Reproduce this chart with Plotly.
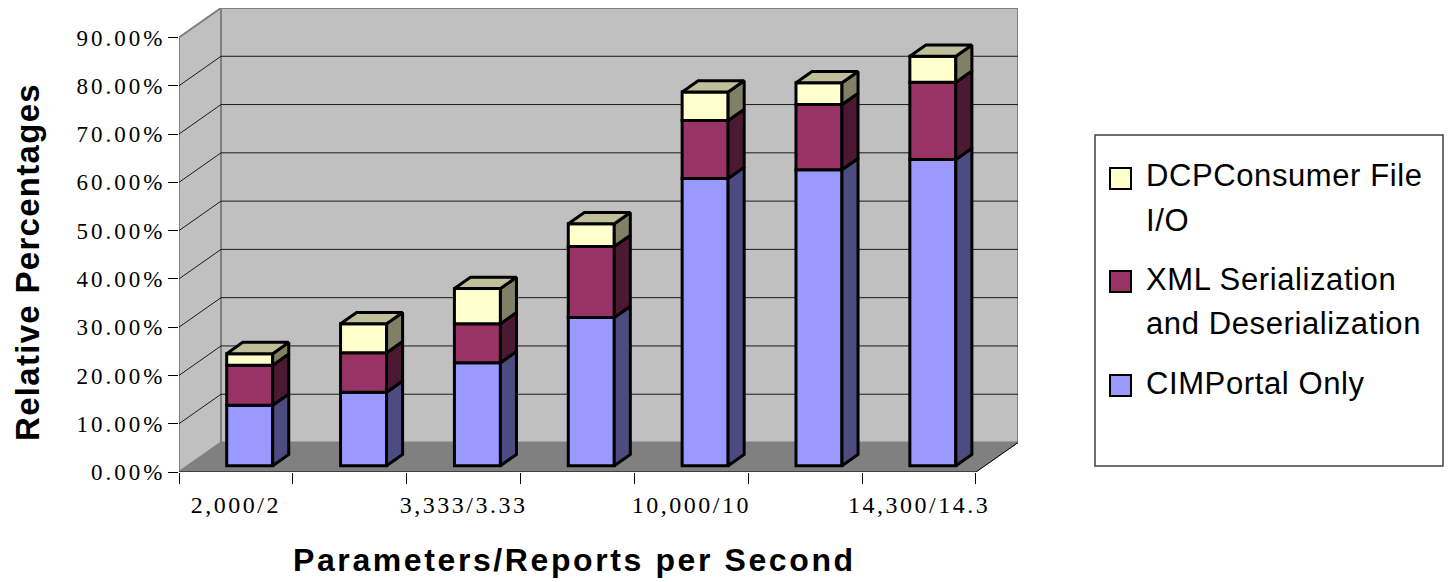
import plotly.graph_objects as go

# ---- data -------------------------------------------------------------
CATEGORIES = ["2,000/2", "", "3,333/3.33", "", "10,000/10", "", "14,300/14.3"]
CIMPORTAL_ONLY = [12.5, 15.2, 21.3, 30.7, 59.5, 61.3, 63.4]
XML_SERDES = [8.3, 8.2, 8.1, 14.7, 12.0, 13.5, 16.0]
DCP_FILE_IO = [2.4, 6.0, 7.3, 4.7, 5.9, 4.5, 5.4]
SERIES_NAMES = ["CIMPortal Only", "XML Serialization and Deserialization",
                "DCPConsumer File I/O"]
Y_TICKS = [0, 10, 20, 30, 40, 50, 60, 70, 80, 90]
Y_TICK_LABELS = ["0.00%", "10.00%", "20.00%", "30.00%", "40.00%", "50.00%",
                 "60.00%", "70.00%", "80.00%", "90.00%"]

# ---- styling ----------------------------------------------------------
FRONT = ["#9999FF", "#993366", "#FFFFCC"]
SIDE = ["#4C4C80", "#4C1933", "#808066"]
TOP = "#BFBF99"
WALL = "#C0C0C0"
FLOOR = "#808080"

# oblique projection of the chart box (category units, percent units)
DX, DY = 0.369, 6.11
# bar geometry
BAR_W = 0.404
BAR_SHIFT = 0.121
LIFT = 1.31
SDX, SDY = 0.141, 2.34

W, H = 1454, 582
ML, MR, MT, MB = 179, 436, 8, 110
PW, PH = W - ML - MR, H - MT - MB


def px(x):
    return (x - ML) / PW


def py(y):
    return (H - MB - y) / PH


def spaced(text, ls):
    return f'<span style="letter-spacing:{ls}px">{text}</span>'


n = len(CATEGORIES)
xs = list(range(n))
x_left, x_right = -0.5, n - 0.5
y_top = Y_TICKS[-1]

fig = go.Figure()

series = [CIMPORTAL_ONLY, XML_SERDES, DCP_FILE_IO]
bottoms = [0.0] * n
side_traces = []
for s, vals in enumerate(series):
    base = [b + LIFT for b in bottoms]
    fig.add_trace(go.Bar(
        x=xs, y=vals, base=base, width=BAR_W, offset=BAR_SHIFT - BAR_W / 2,
        name=SERIES_NAMES[s], showlegend=False,
        marker=dict(color=FRONT[s], line=dict(color="black", width=3)),
    ))
    sx, sy = [], []
    for i in range(n):
        xr = i + BAR_SHIFT + BAR_W / 2
        b = base[i]
        t = b + vals[i]
        sx += [xr, xr + SDX, xr + SDX, xr, xr, None]
        sy += [b, b + SDY, t + SDY, t, b, None]
    side_traces.append(go.Scatter(
        x=sx, y=sy, mode="lines", fill="toself", fillcolor=SIDE[s],
        line=dict(color="black", width=3), showlegend=False, hoverinfo="skip",
    ))
    bottoms = [b + v for b, v in zip(bottoms, vals)]

for tr in side_traces:
    fig.add_trace(tr)

# top faces of the stacks
tx, ty = [], []
for i in range(n):
    xl = i + BAR_SHIFT - BAR_W / 2
    xr = xl + BAR_W
    T = bottoms[i] + LIFT
    tx += [xl, xr, xr + SDX, xl + SDX, xl, None]
    ty += [T, T, T + SDY, T + SDY, T, None]
fig.add_trace(go.Scatter(
    x=tx, y=ty, mode="lines", fill="toself", fillcolor=TOP,
    line=dict(color="black", width=3), showlegend=False, hoverinfo="skip",
))

# ---- walls, floor and gridlines ---------------------------------------
shapes = []
shapes.append(dict(
    type="path", layer="below", xref="x", yref="y",
    path=f"M{x_left},0 L{x_left},{y_top} L{x_left + DX},{y_top + DY} L{x_left + DX},{DY} Z",
    fillcolor=WALL, line=dict(color="#808080", width=2)))
shapes.append(dict(
    type="rect", layer="below", xref="x", yref="y",
    x0=x_left + DX, y0=DY, x1=x_right + DX, y1=y_top + DY,
    fillcolor=WALL, line=dict(color="#808080", width=2)))
shapes.append(dict(
    type="path", layer="below", xref="x", yref="y",
    path=f"M{x_left},0 L{x_right},0 L{x_right + DX},{DY} L{x_left + DX},{DY} Z",
    fillcolor=FLOOR, line=dict(color=FLOOR, width=1)))
for v in Y_TICKS[1:-1]:
    shapes.append(dict(type="line", layer="below", xref="x", yref="y",
                       x0=x_left + DX, y0=v + DY, x1=x_right + DX, y1=v + DY,
                       line=dict(color="#1a1a1a", width=1)))
    shapes.append(dict(type="line", layer="below", xref="x", yref="y",
                       x0=x_left, y0=v, x1=x_left + DX, y1=v + DY,
                       line=dict(color="#1a1a1a", width=1)))
# front axis lines
shapes.append(dict(type="line", layer="below", xref="x", yref="y",
                   x0=x_left, y0=0, x1=x_right, y1=0,
                   line=dict(color="black", width=1)))
shapes.append(dict(type="line", layer="below", xref="x", yref="y",
                   x0=x_right, y0=0, x1=x_right + DX, y1=DY,
                   line=dict(color="black", width=1)))

# ---- legend box ------------------------------------------------------
shapes.append(dict(type="rect", xref="paper", yref="paper",
                   x0=px(1095), y0=py(466), x1=px(1443), y1=py(135),
                   fillcolor="white", line=dict(color="#404040", width=1.5)))
legend_items = [
    (FRONT[2], ["DCPConsumer File", "I/O"], 176),
    (FRONT[1], ["XML Serialization", "and Deserialization"], 279),
    (FRONT[0], ["CIMPortal Only"], 383),
]
annotations = []
for color, lines, yc in legend_items:
    shapes.append(dict(type="rect", xref="paper", yref="paper",
                       x0=px(1110), x1=px(1131), y0=py(yc + 13), y1=py(yc - 8),
                       fillcolor=color, line=dict(color="black", width=2)))
    for k, line in enumerate(lines):
        annotations.append(dict(
            xref="paper", yref="paper", x=px(1144), y=py(yc + k * 44.5),
            xanchor="left", yanchor="middle", showarrow=False,
            text=spaced(line, 0.6),
            font=dict(family="Liberation Sans", size=31, color="black")))

# axis titles
annotations.append(dict(
    xref="paper", yref="paper", x=px(574), y=py(560), xanchor="center",
    yanchor="middle", showarrow=False,
    text=spaced("<b>Parameters/Reports per Second</b>", 2.6),
    font=dict(family="Liberation Sans", size=32, color="black")))
annotations.append(dict(
    xref="paper", yref="paper", x=px(27), y=py(262), xanchor="center",
    yanchor="middle", showarrow=False, textangle=-90,
    text=spaced("<b>Relative Percentages</b>", 1.3),
    font=dict(family="Liberation Sans", size=33, color="black")))

fig.update_layout(
    width=W, height=H, template="none",
    margin=dict(l=ML, r=MR, t=MT, b=MB, pad=0),
    paper_bgcolor="white", plot_bgcolor="white",
    barmode="overlay", showlegend=False, hovermode=False,
    shapes=shapes, annotations=annotations,
    xaxis=dict(
        range=[x_left, x_right + DX], showgrid=False, zeroline=False,
        showline=False, tickmode="array", tickvals=xs,
        ticktext=[spaced(c, 2.5) for c in CATEGORIES],
        ticks="outside", ticklen=11, tickcolor="rgba(0,0,0,0)",
        tickfont=dict(family="Liberation Serif", size=24, color="black"),
        minor=dict(tickmode="array", tickvals=[i - 0.5 for i in range(n + 1)],
                   ticks="outside", ticklen=11, tickcolor="black",
                   tickwidth=1, showgrid=False),
    ),
    yaxis=dict(
        range=[0, y_top + DY], showgrid=False, zeroline=False, showline=False,
        tickmode="array", tickvals=Y_TICKS,
        ticktext=[spaced(t, 3) for t in Y_TICK_LABELS],
        ticks="outside", ticklen=10, tickcolor="black", tickwidth=1,
        ticklabelstandoff=-2,
        tickfont=dict(family="Liberation Serif", size=23, color="black"),
    ),
)

fig.write_html("out.html")
